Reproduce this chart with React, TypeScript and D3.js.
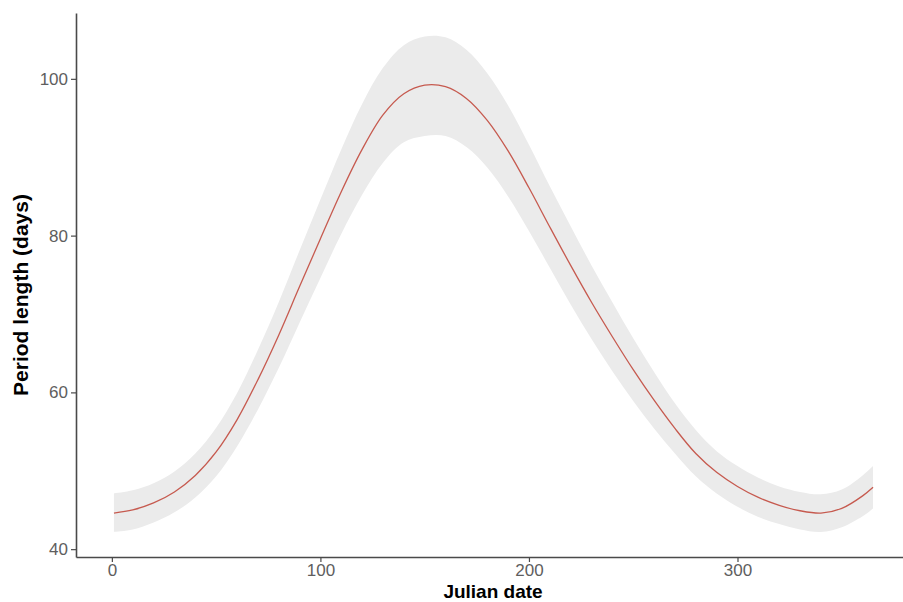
import React, { useEffect, useRef } from 'react';
import * as d3 from 'd3';

// Julian day of each reading
const days = [1, 10, 20, 30, 40, 50, 60, 70, 80, 90, 100, 110, 120, 130, 140, 150, 160, 170, 180, 190, 200, 210, 220, 230, 240, 250, 260, 270, 280, 290, 300, 310, 320, 330, 340, 350, 360, 365];
// fitted period length (days)
const fit = [44.6, 45.0, 45.9, 47.3, 49.4, 52.4, 56.5, 61.6, 67.3, 73.5, 79.6, 85.6, 91.0, 95.4, 98.1, 99.2, 99.0, 97.5, 94.7, 90.8, 86.1, 81.1, 76.2, 71.5, 67.1, 62.9, 59.0, 55.4, 52.2, 49.8, 48.0, 46.6, 45.6, 44.9, 44.6, 45.2, 46.8, 47.9];
// confidence band
const lower = [42.2, 42.5, 43.4, 44.7, 46.6, 49.3, 53.1, 57.8, 63.1, 68.9, 74.6, 80.2, 85.2, 89.3, 91.9, 92.7, 92.7, 91.3, 88.7, 85.0, 80.6, 75.9, 71.2, 66.8, 62.7, 58.9, 55.4, 52.2, 49.3, 47.1, 45.4, 44.1, 43.2, 42.5, 42.2, 42.8, 44.2, 45.2];
const upper = [47.1, 47.5, 48.4, 49.9, 52.2, 55.5, 59.9, 65.4, 71.5, 78.1, 84.6, 91.0, 96.8, 101.4, 104.3, 105.4, 105.3, 103.7, 100.7, 96.6, 91.6, 86.3, 81.2, 76.2, 71.5, 66.9, 62.6, 58.6, 55.2, 52.5, 50.6, 49.1, 48.0, 47.3, 47.0, 47.6, 49.4, 50.6];

const xTicks = [0, 100, 200, 300];
const yTicks = [40, 60, 80, 100];

const W = 903;
const H = 602;
const font = '"Liberation Sans", Arial, sans-serif';

export default function App() {
  const ref = useRef<SVGSVGElement>(null);

  useEffect(() => {
    const svg = d3.select(ref.current);
    svg.selectAll('*').remove();

    const x = d3.scaleLinear().domain([-17.2, 383.2]).range([76, 911]);
    const y = d3.scaleLinear().domain([39, 108.4]).range([557, 13]);

    const rows = days.map((d, i) => ({ d, v: fit[i], lo: lower[i], hi: upper[i] }));

    const band = d3.area<any>()
      .x(r => x(r.d))
      .y0(r => y(r.lo))
      .y1(r => y(r.hi))
      .curve(d3.curveCatmullRom.alpha(0.5));

    const line = d3.line<any>()
      .x(r => x(r.d))
      .y(r => y(r.v))
      .curve(d3.curveCatmullRom.alpha(0.5));

    svg.append('path')
      .attr('d', band(rows))
      .attr('fill', '#ebebeb');

    svg.append('path')
      .attr('d', line(rows))
      .attr('fill', 'none')
      .attr('stroke', '#c65a4f')
      .attr('stroke-width', 1.3);

    const gx = svg.append('g')
      .attr('transform', `translate(0,${y(39)})`)
      .call(d3.axisBottom(x).tickValues(xTicks).tickSize(5).tickSizeOuter(0).tickPadding(2));

    const gy = svg.append('g')
      .attr('transform', `translate(${x(-17.2)},0)`)
      .call(d3.axisLeft(y).tickValues(yTicks).tickSize(5).tickSizeOuter(0).tickPadding(3));

    [gx, gy].forEach(g => {
      g.select('.domain').attr('stroke', '#4a4a4a').attr('stroke-width', 1.6);
      g.selectAll('.tick line').attr('stroke', '#4a4a4a').attr('stroke-width', 1.2);
      g.selectAll('.tick text')
        .attr('fill', '#5e5e5e')
        .style('font-family', font)
        .style('font-size', '17px');
    });

    svg.append('text')
      .attr('x', 493)
      .attr('y', 597.5)
      .attr('text-anchor', 'middle')
      .style('font-family', font)
      .style('font-size', '19px')
      .style('font-weight', 'bold')
      .text('Julian date');

    svg.append('text')
      .attr('transform', `translate(28,295) rotate(-90)`)
      .attr('text-anchor', 'middle')
      .style('font-family', font)
      .style('font-size', '21px')
      .style('font-weight', 'bold')
      .text('Period length (days)');
  }, []);

  return (
    <svg
      ref={ref}
      width={W}
      height={H}
      style={{ position: 'absolute', left: 0, top: 0, background: '#fff' }}
    />
  );
}
